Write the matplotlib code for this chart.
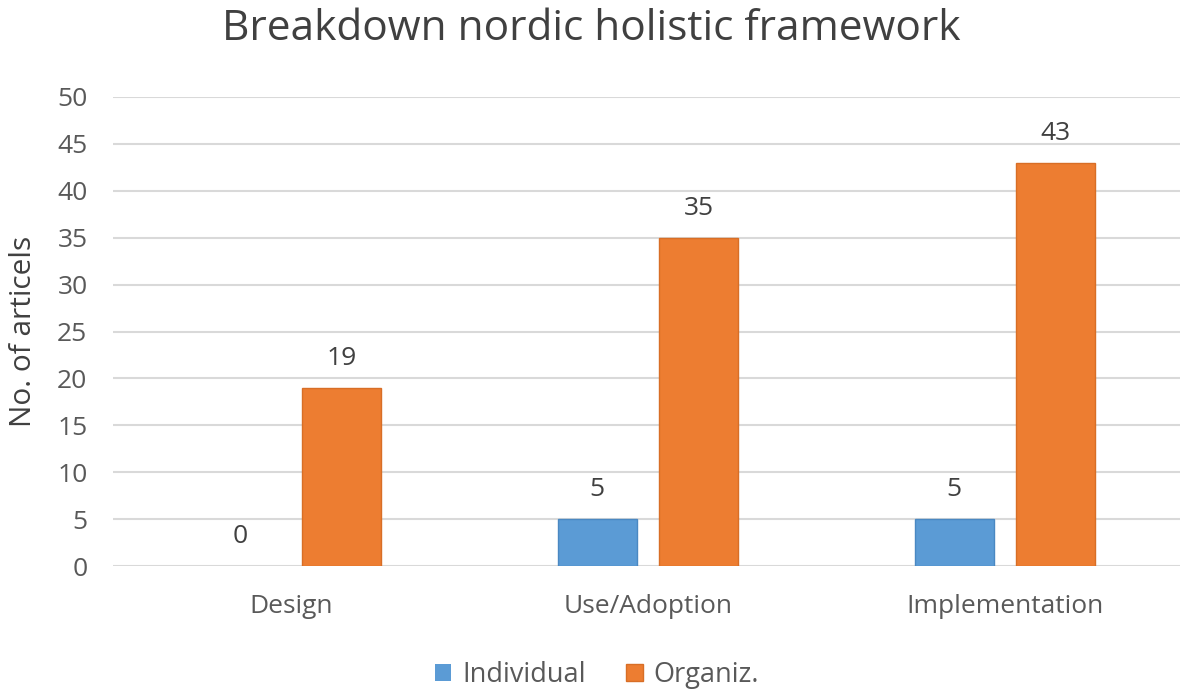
import matplotlib
matplotlib.use("Agg")
import matplotlib.pyplot as plt
import numpy as np

categories = ["Design", "Use/Adoption", "Implementation"]
individual = [0, 5, 5]
organiz = [19, 35, 43]
series_names = ["Individual", "Organiz."]
yticks = [0, 5, 10, 15, 20, 25, 30, 35, 40, 45, 50]

plt.rcParams['font.family'] = ['Open Sans', 'DejaVu Sans']
W, H = 1180, 694
fig = plt.figure(figsize=(W/100, H/100), dpi=100)
left = 112.5 / W
width = 1071 / W
bottom = 1 - 566 / H
height = (566 - 97) / H
ax = fig.add_axes([left, bottom, width, height])

blue = "#5B9BD5"
orange = "#ED7D31"
x = np.arange(len(categories))
bw = 0.222
off = 0.142
b1 = ax.bar(x - off, individual, bw, color=blue, edgecolor="#4A88C2", linewidth=1, label=series_names[0], zorder=3)
b2 = ax.bar(x + off, organiz, bw, color=orange, edgecolor="#D86E26", linewidth=1, label=series_names[1], zorder=3)

for bars, vals in ((b1, individual), (b2, organiz)):
    for rect, v in zip(bars, vals):
        if v == 0:
            rect.set_linewidth(0)
        ax.annotate(str(v), (rect.get_x() + rect.get_width()/2, v), xytext=(0, 12),
                    textcoords="offset points", ha="center", va="bottom",
                    fontsize=19, color="#404040")

ax.set_xlim(-0.5, 2.5)
ax.set_ylim(0, 50)
ax.set_yticks(yticks)
ax.set_yticklabels([str(t) for t in yticks], fontsize=19, color="#595959")
ax.set_xticks(x)
ax.set_xticklabels(categories, fontsize=19, color="#595959")
ax.tick_params(axis='both', length=0)
ax.tick_params(axis='x', pad=20)
ax.tick_params(axis='y', pad=18)
ax.yaxis.grid(True, color="#D9D9D9", linewidth=1.5, zorder=0)
for s in ["top", "right", "left", "bottom"]:
    ax.spines[s].set_visible(False)
ax.set_ylabel("No. of articels", fontsize=21.5, color="#404040")
ax.yaxis.set_label_coords(-74.5 / 1071, 0.5)

fig.text(591 / W, 1 - 29 / H, "Breakdown nordic holistic framework", ha="center", va="center",
         fontsize=30.5, color="#404040")

fig.legend(handles=[b1, b2], labels=series_names, loc="center", bbox_to_anchor=(597 / W, 1 - 675 / H),
           ncol=2, frameon=False, fontsize=19.5, handlelength=0.6, handleheight=0.6,
           columnspacing=1.5, handletextpad=0.4, labelcolor="#595959")

fig.savefig("out.png", dpi=100)
